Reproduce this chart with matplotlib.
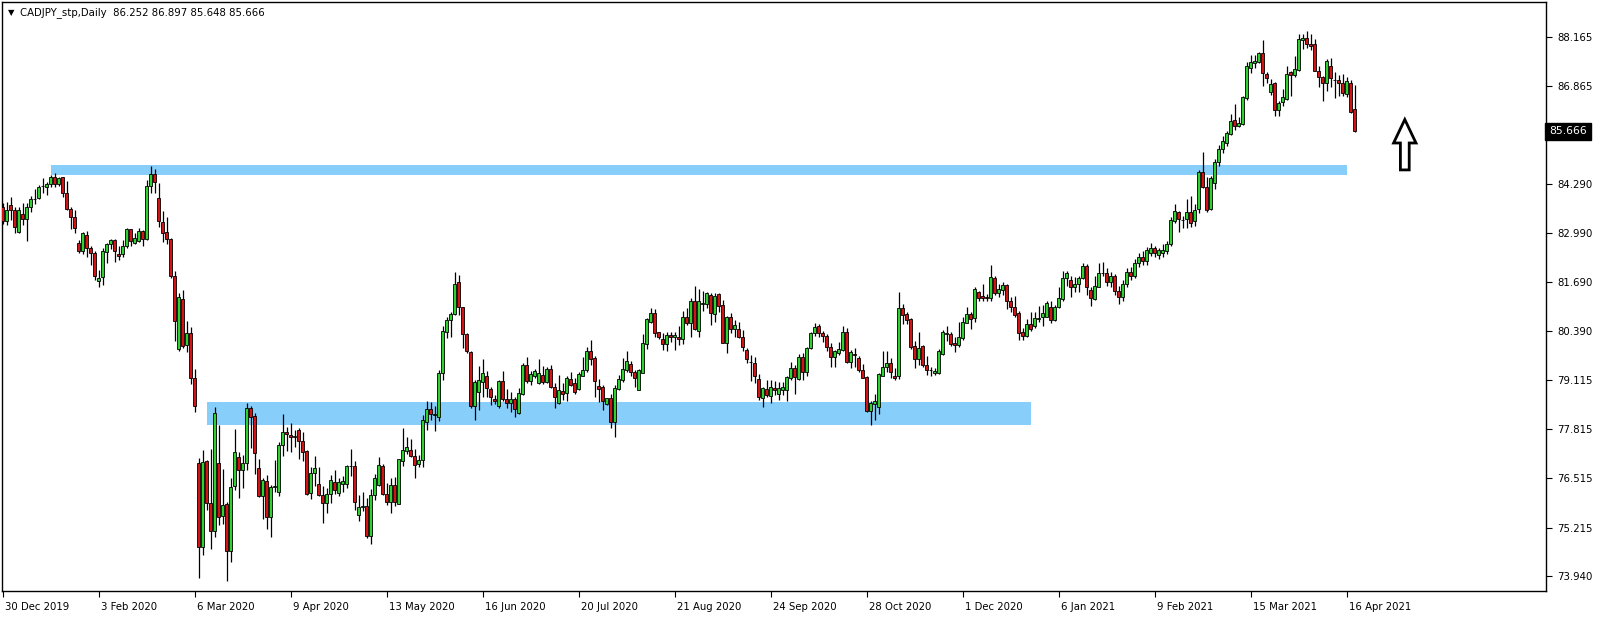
import matplotlib
matplotlib.use("Agg")
import matplotlib.pyplot as plt
from matplotlib.patches import Rectangle, FancyArrow
import matplotlib.transforms as mtransforms

# CADJPY daily bars
opens = [
    83.66, 83.31, 83.73, 83.59, 83.02, 83.49, 83.36, 83.66, 83.88, 83.90,
    84.22, 84.19, 84.28, 84.46, 84.27, 84.45, 84.03, 83.62, 83.40, 82.71,
    82.52, 82.93, 82.58, 82.47, 81.73, 81.82, 82.49, 82.70, 82.79, 82.42,
    82.42, 82.63, 83.08, 82.73, 82.77, 83.03, 82.84, 84.23, 84.54, 83.91,
    83.28, 83.00, 82.83, 81.85, 79.92, 81.24, 80.02, 80.34, 79.15, 76.91,
    74.71, 76.96, 75.85, 75.13, 76.93, 75.53, 75.83, 74.60, 76.30, 77.07,
    76.72, 76.91, 78.36, 78.16, 76.78, 76.05, 76.44, 75.50, 76.29, 76.15,
    77.38, 77.73, 77.66, 77.60, 77.79, 77.50, 77.24, 76.12, 76.65, 76.36,
    76.07, 75.86, 76.09, 76.41, 76.12, 76.35, 76.35, 76.84, 76.84, 75.54,
    75.76, 75.78, 75.00, 76.06, 76.33, 76.84, 76.09, 75.90, 76.33, 75.84,
    76.98, 77.24, 77.25, 77.10, 76.88, 76.99, 78.01, 78.34, 78.19, 78.12,
    79.29, 80.38, 80.68, 80.84, 81.70, 81.03, 80.31, 79.84, 78.41, 78.80,
    79.06, 79.21, 78.87, 78.60, 78.41, 79.08, 78.60, 78.49, 78.60, 78.23,
    78.73, 79.50, 79.09, 79.21, 79.02, 79.24, 79.05, 79.39, 78.91, 78.49,
    78.82, 78.76, 79.13, 79.02, 78.86, 79.22, 79.36, 79.86, 79.70, 78.95,
    78.91, 78.48, 78.63, 78.01, 78.87, 79.12, 79.38, 79.53, 79.31, 78.85,
    79.30, 80.06, 80.65, 80.87, 80.37, 80.18, 80.05, 80.30, 80.24, 80.24,
    80.18, 80.76, 80.62, 81.19, 80.41, 81.11, 81.11, 81.35, 80.84, 81.38,
    81.09, 80.09, 80.76, 80.45, 80.45, 80.24, 79.90, 79.57, 79.55, 79.14,
    78.62, 78.86, 78.69, 78.89, 78.73, 78.85, 78.85, 79.15, 79.42, 79.13,
    79.71, 79.31, 79.94, 80.34, 80.52, 80.34, 80.27, 79.99, 79.72, 79.83,
    79.90, 80.37, 79.57, 79.79, 79.68, 79.36, 79.18, 78.29, 78.47, 78.40,
    79.21, 79.46, 79.55, 79.22, 79.20, 81.00, 80.84, 80.72, 80.01, 79.66,
    80.01, 79.51, 79.37, 79.29, 79.29, 79.79, 80.33, 80.31, 80.08, 80.03,
    80.21, 80.62, 80.84, 80.74, 81.42, 81.33, 81.31, 81.28, 81.79, 81.41,
    81.48, 81.62, 81.19, 81.03, 80.87, 80.37, 80.28, 80.58, 80.52, 80.71,
    80.76, 80.78, 81.03, 80.69, 81.03, 81.25, 81.79, 81.75, 81.55, 81.63,
    81.79, 82.12, 81.48, 81.24, 81.57, 81.92, 81.93, 81.70, 81.85, 81.45,
    81.30, 81.65, 81.95, 81.85, 82.20, 82.35, 82.25, 82.45, 82.60, 82.40,
    82.45, 82.50, 82.69, 83.29, 83.53, 83.33, 83.36, 83.53, 83.29, 83.61,
    84.59, 84.19, 83.61, 84.30, 84.85, 85.20, 85.35, 85.59, 85.97, 85.82,
    85.86, 86.54, 87.33, 87.48, 87.51, 87.73, 87.18, 86.70, 86.94, 86.23,
    86.43, 86.52, 87.24, 87.16, 87.29, 88.08, 88.12, 87.97, 87.97, 87.27,
    87.10, 86.95, 87.38, 87.02, 87.02, 86.94, 86.66, 86.95, 86.252,
]
highs = [
    83.79, 83.81, 83.93, 83.68, 83.68, 83.77, 83.79, 83.95, 84.14, 84.25,
    84.43, 84.34, 84.52, 84.58, 84.47, 84.46, 84.37, 83.68, 83.58, 82.80,
    83.02, 83.05, 82.63, 82.50, 82.01, 82.58, 82.71, 82.83, 82.82, 82.63,
    82.80, 83.12, 83.09, 82.98, 83.11, 83.07, 84.39, 84.76, 84.68, 84.30,
    83.57, 83.40, 82.85, 81.98, 81.39, 81.48, 80.66, 80.51, 79.41, 77.04,
    77.26, 76.99, 77.28, 78.40, 77.92, 76.77, 75.90, 76.51, 77.81, 77.20,
    77.13, 78.49, 78.42, 78.23, 77.02, 76.51, 76.60, 76.34, 77.00, 77.48,
    78.21, 77.88, 77.97, 77.79, 77.83, 77.73, 77.26, 76.82, 77.10, 76.82,
    76.32, 76.25, 76.60, 76.73, 76.51, 76.57, 76.86, 77.29, 76.97, 76.07,
    76.14, 76.00, 76.23, 76.64, 77.08, 76.89, 76.38, 76.51, 76.54, 77.03,
    77.83, 77.61, 77.55, 77.29, 77.13, 78.19, 78.55, 78.52, 78.42, 79.37,
    80.53, 80.78, 80.91, 81.95, 81.88, 81.04, 80.34, 79.86, 79.10, 79.48,
    79.65, 79.35, 78.93, 78.71, 79.11, 79.35, 78.87, 78.80, 78.67, 78.89,
    79.55, 79.72, 79.35, 79.39, 79.65, 79.48, 79.46, 79.50, 79.02, 79.24,
    79.02, 79.20, 79.31, 79.17, 79.31, 79.72, 79.99, 80.16, 79.74, 79.13,
    78.98, 78.64, 78.74, 78.98, 79.24, 79.68, 79.87, 79.62, 79.37, 79.39,
    80.31, 80.75, 81.00, 80.98, 80.38, 80.34, 80.38, 80.38, 80.38, 80.52,
    80.94, 81.00, 81.26, 81.59, 81.50, 81.46, 81.44, 81.41, 81.40, 81.40,
    81.22, 80.80, 80.87, 80.69, 80.65, 80.43, 79.94, 79.77, 79.72, 79.27,
    78.93, 79.11, 79.11, 79.08, 79.05, 79.05, 79.21, 79.59, 79.50, 79.80,
    79.81, 79.99, 80.38, 80.60, 80.58, 80.40, 80.31, 80.09, 79.90, 80.12,
    80.52, 80.47, 79.90, 79.94, 79.75, 79.53, 79.22, 78.55, 78.73, 79.29,
    79.86, 79.86, 79.68, 79.42, 81.44, 81.11, 80.89, 80.75, 80.14, 80.37,
    80.03, 79.75, 79.46, 79.42, 79.92, 80.43, 80.52, 80.37, 80.25, 80.65,
    80.78, 81.03, 80.91, 81.57, 81.46, 81.63, 81.37, 82.14, 81.85, 81.63,
    81.70, 81.63, 81.31, 81.33, 80.93, 80.47, 80.71, 80.91, 80.91, 81.06,
    81.09, 81.19, 81.18, 81.09, 81.57, 81.97, 81.97, 81.84, 81.82, 81.84,
    82.19, 82.17, 81.57, 81.84, 82.19, 82.21, 82.05, 81.95, 81.90, 81.60,
    81.75, 82.05, 82.10, 82.30, 82.45, 82.50, 82.62, 82.72, 82.65, 82.60,
    82.70, 82.78, 83.40, 83.75, 83.57, 83.44, 83.89, 83.97, 83.75, 84.65,
    85.11, 84.45, 84.49, 84.95, 85.30, 85.55, 85.68, 86.12, 86.38, 86.04,
    86.60, 87.51, 87.69, 87.69, 87.77, 88.08, 87.24, 87.04, 86.96, 86.47,
    86.79, 87.39, 87.27, 87.66, 88.24, 88.24, 88.32, 88.24, 88.10, 87.38,
    87.13, 87.58, 87.60, 87.24, 87.16, 87.18, 87.11, 87.03, 86.897,
]
lows = [
    83.21, 83.20, 83.33, 82.98, 82.98, 83.20, 82.78, 83.55, 83.75, 83.88,
    84.03, 83.99, 84.19, 84.21, 84.23, 83.93, 83.58, 83.08, 82.98, 82.47,
    82.43, 82.36, 82.13, 81.75, 81.57, 81.61, 82.19, 82.56, 82.23, 82.26,
    82.36, 82.58, 82.63, 82.70, 82.76, 82.64, 82.80, 84.05, 84.03, 83.15,
    82.76, 82.69, 81.80, 80.14, 79.88, 79.96, 79.84, 79.00, 78.25, 73.87,
    74.49, 75.67, 74.66, 74.97, 75.28, 75.32, 73.80, 74.30, 76.21, 75.99,
    76.25, 76.73, 77.31, 76.62, 76.01, 75.43, 75.17, 74.97, 76.16, 76.05,
    77.10, 77.24, 77.20, 77.33, 77.02, 76.97, 76.06, 75.96, 76.32, 76.05,
    75.33, 75.59, 75.87, 76.09, 76.05, 76.16, 76.27, 76.57, 75.69, 75.40,
    75.66, 74.93, 74.79, 75.94, 76.31, 76.07, 75.81, 75.59, 75.78, 75.83,
    76.84, 77.16, 77.07, 76.53, 76.81, 76.80, 77.79, 78.04, 77.77, 78.03,
    79.11, 80.21, 80.23, 80.82, 80.82, 79.96, 79.81, 78.38, 78.04, 78.32,
    78.67, 78.67, 78.45, 78.47, 78.38, 78.54, 78.36, 78.27, 78.12, 78.21,
    78.71, 79.02, 78.98, 79.17, 79.00, 79.00, 79.02, 78.89, 78.38, 78.47,
    78.58, 78.55, 78.96, 78.74, 78.84, 79.20, 79.33, 79.50, 78.67, 78.52,
    78.32, 78.45, 77.83, 77.61, 78.84, 79.05, 79.33, 79.22, 78.93, 78.84,
    79.28, 79.92, 80.60, 80.23, 80.19, 79.90, 79.88, 80.12, 79.90, 80.03,
    80.06, 80.56, 80.23, 80.43, 80.25, 80.94, 81.00, 80.56, 80.65, 80.89,
    80.08, 79.81, 80.34, 80.23, 80.21, 79.86, 79.55, 79.07, 79.02, 78.58,
    78.39, 78.67, 78.51, 78.70, 78.58, 78.71, 78.54, 79.11, 78.74, 79.11,
    79.11, 79.20, 79.93, 80.28, 80.25, 80.12, 79.86, 79.46, 79.46, 79.77,
    79.87, 79.55, 79.42, 79.46, 79.31, 79.15, 78.27, 77.92, 78.05, 78.21,
    79.20, 79.33, 79.15, 79.11, 79.13, 80.58, 80.58, 79.93, 79.42, 79.50,
    79.46, 79.24, 79.22, 79.24, 79.27, 79.77, 80.14, 80.01, 79.84, 79.99,
    80.15, 80.60, 80.45, 80.65, 81.19, 81.19, 81.18, 81.18, 81.35, 81.31,
    81.35, 80.97, 80.91, 80.76, 80.16, 80.16, 80.25, 80.41, 80.49, 80.65,
    80.52, 80.76, 80.60, 80.67, 81.00, 81.20, 81.59, 81.31, 81.44, 81.44,
    81.77, 81.35, 81.06, 81.22, 81.55, 81.84, 81.60, 81.55, 81.35, 81.10,
    81.20, 81.55, 81.75, 81.80, 82.10, 82.15, 82.15, 82.38, 82.35, 82.30,
    82.35, 82.42, 82.63, 83.24, 83.02, 83.11, 83.11, 83.15, 83.18, 83.51,
    84.17, 83.55, 83.60, 84.15, 84.75, 85.10, 85.28, 85.57, 85.71, 85.79,
    85.84, 86.50, 87.20, 87.33, 87.47, 86.87, 86.94, 86.63, 86.06, 86.08,
    86.34, 86.50, 86.60, 87.11, 87.26, 87.84, 87.86, 87.82, 87.26, 86.85,
    86.47, 86.74, 86.85, 86.56, 86.59, 86.59, 86.57, 86.15, 85.648,
]
closes = [
    83.31, 83.59, 83.59, 83.14, 83.59, 83.36, 83.68, 83.88, 83.87, 84.19,
    84.23, 84.28, 84.46, 84.28, 84.43, 84.03, 83.61, 83.40, 83.11, 82.52,
    82.98, 82.58, 82.47, 81.85, 81.80, 82.51, 82.70, 82.80, 82.50, 82.39,
    82.63, 83.09, 82.77, 82.85, 83.03, 82.84, 84.23, 84.54, 84.32, 83.29,
    82.98, 82.82, 81.84, 80.67, 81.29, 80.00, 80.34, 79.15, 78.43, 74.71,
    76.95, 75.85, 75.13, 78.23, 75.50, 75.82, 74.60, 76.28, 77.20, 76.72,
    76.91, 78.36, 78.14, 77.17, 76.05, 76.47, 75.50, 76.28, 76.30, 77.39,
    77.73, 77.68, 77.60, 77.62, 77.51, 77.22, 76.10, 76.65, 76.78, 76.07,
    75.86, 76.09, 76.47, 76.21, 76.41, 76.44, 76.84, 76.85, 75.88, 75.75,
    75.77, 75.00, 76.06, 76.51, 76.86, 76.10, 75.90, 76.33, 75.90, 77.02,
    77.25, 77.33, 77.10, 76.86, 76.99, 78.05, 78.34, 78.20, 78.20, 79.29,
    80.40, 80.69, 80.85, 81.64, 81.02, 80.31, 79.86, 78.41, 79.05, 79.10,
    79.28, 78.89, 78.67, 78.54, 79.08, 78.60, 78.49, 78.60, 78.34, 78.77,
    79.50, 79.08, 79.26, 79.35, 79.29, 79.05, 79.39, 78.93, 78.65, 78.84,
    78.74, 79.15, 78.98, 78.80, 79.26, 79.37, 79.87, 79.66, 79.09, 78.88,
    78.54, 78.63, 78.01, 78.89, 79.14, 79.40, 79.61, 79.31, 79.15, 79.37,
    80.08, 80.72, 80.87, 80.34, 80.24, 80.05, 80.30, 80.24, 80.30, 80.18,
    80.76, 80.62, 81.19, 80.45, 81.19, 81.13, 81.40, 80.87, 81.33, 81.07,
    80.09, 80.76, 80.45, 80.56, 80.23, 79.97, 79.65, 79.58, 79.21, 78.65,
    78.89, 78.70, 78.91, 78.83, 78.89, 78.92, 79.18, 79.42, 79.18, 79.71,
    79.33, 79.96, 80.34, 80.50, 80.34, 80.28, 79.99, 79.72, 79.86, 79.92,
    80.37, 79.57, 79.84, 79.77, 79.36, 79.17, 78.29, 78.51, 78.55, 79.26,
    79.44, 79.55, 79.31, 79.15, 81.00, 80.81, 80.69, 79.99, 79.65, 79.96,
    79.49, 79.36, 79.38, 79.34, 79.86, 80.37, 80.35, 80.06, 80.03, 80.25,
    80.63, 80.84, 80.71, 81.51, 81.28, 81.27, 81.27, 81.82, 81.40, 81.50,
    81.62, 81.18, 81.02, 80.81, 80.36, 80.28, 80.58, 80.45, 80.74, 80.75,
    80.87, 81.13, 80.69, 81.04, 81.26, 81.79, 81.92, 81.55, 81.63, 81.79,
    82.12, 81.57, 81.28, 81.59, 81.92, 81.93, 81.70, 81.85, 81.45, 81.30,
    81.65, 81.95, 81.85, 82.20, 82.35, 82.25, 82.55, 82.58, 82.45, 82.55,
    82.55, 82.69, 83.33, 83.57, 83.35, 83.32, 83.53, 83.26, 83.60, 84.59,
    84.19, 83.58, 84.43, 84.85, 85.20, 85.40, 85.63, 85.94, 85.82, 85.88,
    86.58, 87.39, 87.49, 87.53, 87.73, 87.20, 87.07, 86.92, 86.23, 86.41,
    86.57, 87.18, 87.16, 87.31, 88.10, 88.14, 87.97, 87.93, 87.27, 87.10,
    86.95, 87.53, 87.07, 87.03, 86.94, 86.67, 87.00, 86.19, 85.666,
]

date_labels = ["30 Dec 2019", "3 Feb 2020", "6 Mar 2020", "9 Apr 2020",
               "13 May 2020", "16 Jun 2020", "20 Jul 2020", "21 Aug 2020",
               "24 Sep 2020", "28 Oct 2020", "1 Dec 2020", "6 Jan 2021",
               "9 Feb 2021", "15 Mar 2021", "16 Apr 2021"]
date_bars = [0, 24, 48, 72, 96, 120, 144, 168, 192, 216, 240, 264, 288, 312, 336]

price_ticks = [88.165, 86.865, 84.290, 82.990, 81.690, 80.390,
               79.115, 77.815, 76.515, 75.215, 73.940]

# support / resistance zones: first bar, last bar, low price, high price
zone_start = [12, 51]
zone_end = [336, 257]
zone_low = [84.52, 77.92]
zone_high = [84.78, 78.52]

W, H = 1604, 618
fig = plt.figure(figsize=(W / 100, H / 100), dpi=100)
ax = fig.add_axes([2 / W, 1 - 591 / H, 1544 / W, 589 / H])

n = len(closes)
idx = list(range(n))

for x0, x1, lo, hi in zip(zone_start, zone_end, zone_low, zone_high):
    ax.add_patch(Rectangle((x0, lo), x1 - x0, hi - lo, facecolor="#87cefa",
                           edgecolor="none", zorder=1))

ax.vlines(idx, lows, highs, color="black", linewidth=0.9, zorder=2)
bottoms = [min(o, c) for o, c in zip(opens, closes)]
heights = [max(abs(c - o), 0.004) for o, c in zip(opens, closes)]
colors = ["#2fd02f" if c >= o else "#d41414" for o, c in zip(opens, closes)]
ax.bar(idx, heights, bottom=bottoms, width=0.75, color=colors,
       edgecolor="black", linewidth=0.6, zorder=3)

# hollow up arrow to the right of the last bar
ax.add_patch(FancyArrow(350.5, 84.65, 0, 1.33, width=2.2, head_width=5.6,
                        head_length=0.62, length_includes_head=True,
                        facecolor="white", edgecolor="black", linewidth=2.0,
                        zorder=4))

ax.set_xlim(-0.2, 385.8)
ax.set_ylim(73.54, 89.08)

font = "DejaVu Sans"
ax.yaxis.tick_right()
ax.set_yticks(price_ticks)
ax.set_yticklabels([f"{p:.3f}" for p in price_ticks], fontsize=7.3,
                   family=font)
ax.tick_params(axis="y", length=4, width=0.8, pad=4, direction="out")
ax.set_xticks(date_bars)
ax.set_xticklabels(date_labels, fontsize=7.3, family=font, ha="left")
ax.tick_params(axis="x", length=4, width=0.8, pad=4, direction="out")
offset = mtransforms.ScaledTranslation(2 / 100, 0, fig.dpi_scale_trans)
for lab in ax.get_xticklabels():
    lab.set_transform(lab.get_transform() + offset)

for sp in ax.spines.values():
    sp.set_color("black")
    sp.set_linewidth(1.0)

# current price tag on the price scale
trans = mtransforms.blended_transform_factory(ax.transAxes, ax.transData)
ax.text(1.002, closes[-1], f"{closes[-1]:.3f}", transform=trans,
        fontsize=7.8, family=font, color="white", va="center", ha="left",
        bbox=dict(boxstyle="square,pad=0.35", facecolor="black",
                  edgecolor="black"), zorder=10, clip_on=False)

fig.text(8 / W, 1 - 13 / H, "\u25bc", fontsize=6, family=font, va="center")
fig.text(20 / W, 1 - 13 / H,
         "CADJPY_stp,Daily  %.3f %.3f %.3f %.3f"
         % (opens[-1], highs[-1], lows[-1], closes[-1]),
         fontsize=7.3, family=font, va="center")

fig.savefig("out.png", dpi=100, facecolor="white")
